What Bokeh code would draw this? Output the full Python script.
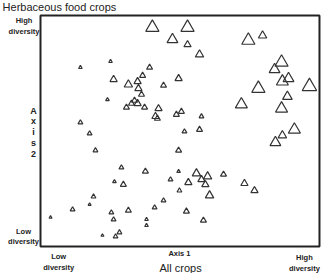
from bokeh.plotting import figure
from bokeh.models import ColumnDataSource, Label, Range1d
from bokeh.embed import file_html
from bokeh.resources import INLINE

# Data (axis 1, axis 2 in 0-100 units, marker size = crop diversity)
axis1 = [40.1, 52.7, 47.3, 52.7, 57.0, 74.5, 79.6, 86.4, 83.9, 86.7, 88.9, 96.4, 78.1, 88.5, 72.0, 86.4,
         91.0, 86.7, 84.2, 25.1, 14.3, 39.1, 36.6, 26.2, 31.5, 34.8, 35.1, 36.2, 24.0, 33.7, 34.8, 32.6,
         30.8, 37.3, 42.3, 41.2, 41.9, 14.3, 17.6, 49.5, 44.1, 50.5, 48.7, 57.7, 51.6, 57.0, 19.7, 26.5,
         29.7, 37.6, 49.5, 49.5, 46.6, 53.0, 55.9, 57.7, 59.9, 59.1, 65.6, 49.8, 60.6, 44.1, 40.9, 52.3,
         58.4, 38.0, 38.0, 19.0, 17.6, 11.5, 31.5, 25.4, 26.2, 3.6, 22.2, 26.9, 28.3, 29.0, 73.1, 76.7, 78.1]
axis2 = [94.8, 94.8, 89.6, 87.4, 83.1, 89.2, 91.3, 79.7, 76.6, 71.4, 72.7, 69.3, 68.4, 64.9, 61.5, 59.7,
         50.6, 48.1, 45.0, 80.1, 77.5, 77.5, 74.0, 72.3, 70.1, 71.4, 68.4, 65.8, 63.6, 63.2, 61.9, 61.9,
         60.2, 60.2, 59.7, 56.3, 55.4, 53.7, 48.9, 72.7, 69.7, 58.4, 57.1, 56.3, 49.8, 50.6, 41.6, 28.1,
         26.8, 32.5, 41.6, 32.5, 29.0, 27.7, 31.6, 29.0, 30.3, 26.8, 31.2, 24.2, 22.1, 19.9, 16.9, 15.2,
         11.3, 11.7, 9.1, 21.6, 18.2, 16.0, 15.6, 14.7, 11.7, 12.6, 4.8, 4.3, 6.1, 34.2, 27.3, 24.2]
diversity = [11, 11, 9, 6, 7, 11, 7, 11, 9, 10, 9, 12, 11, 8, 10, 10,
             10, 7, 9, 3, 3, 5, 5, 6, 7, 6, 6, 5, 3, 5, 6, 5,
             5, 5, 6, 6, 5, 4, 4, 6, 5, 5, 5, 4, 4, 5, 4, 3,
             5, 5, 5, 3, 4, 6, 7, 6, 7, 6, 5, 4, 7, 4, 4, 5,
             5, 3, 3, 4, 2.5, 4, 5, 4, 4, 2.5, 2.5, 4, 4, 4, 6, 6, 7]

title_text = "Herbaceous food crops"
x_title = "Axis 1"
x_caption = "All crops"
y_title = "A\nx\ni\ns\n2"
hi_text = "High\ndiversity"
lo_text = "Low\ndiversity"

FONT = "Liberation Sans"

src = ColumnDataSource(dict(x=axis1, y=axis2, s=[d * 1.2 for d in diversity]))

# The frame covers the whole canvas; the plot box spans 0..100 on both axes.
p = figure(width=322, height=273, output_backend="svg", toolbar_location=None,
           x_range=Range1d(-14.34, 101.08), y_range=Range1d(-11.69, 106.49),
           min_border=0)
p.xaxis.visible = False
p.yaxis.visible = False
p.xgrid.visible = False
p.ygrid.visible = False
p.outline_line_color = None
p.background_fill_color = "white"
p.border_fill_color = "white"

p.quad(left=[0], right=[100], bottom=[0], top=[100], fill_alpha=0,
       line_color="#222222", line_width=2)

p.scatter("x", "y", size="s", marker="triangle", source=src,
          fill_alpha=0, line_color="#333333", line_width=1.2)


def lab(x, y, text, size, bold=False, align="center", lh=1.2):
    p.add_layout(Label(x=x, y=y, text=text, text_font=FONT, text_font_size=size,
                       text_font_style="bold" if bold else "normal", text_color="#222222",
                       text_align=align, text_baseline="top", text_line_height=lh))


lab(-13.6, 106.3, title_text, "11px", align="left")
lab(-5.9, 99.6, hi_text, "7.5px", bold=True)
lab(-6.1, 8.6, lo_text, "7.5px", bold=True)
lab(-2.5, 61.0, y_title, "9px", bold=True, lh=1.08)
lab(6.5, -2.4, lo_text, "7.5px", bold=True)
lab(94.6, -2.8, hi_text, "7.5px", bold=True)
lab(49.8, -1.3, x_title, "7.5px", bold=True)
lab(50.2, -6.7, x_caption, "11px")

open("out.html", "w").write(file_html(p, INLINE))
